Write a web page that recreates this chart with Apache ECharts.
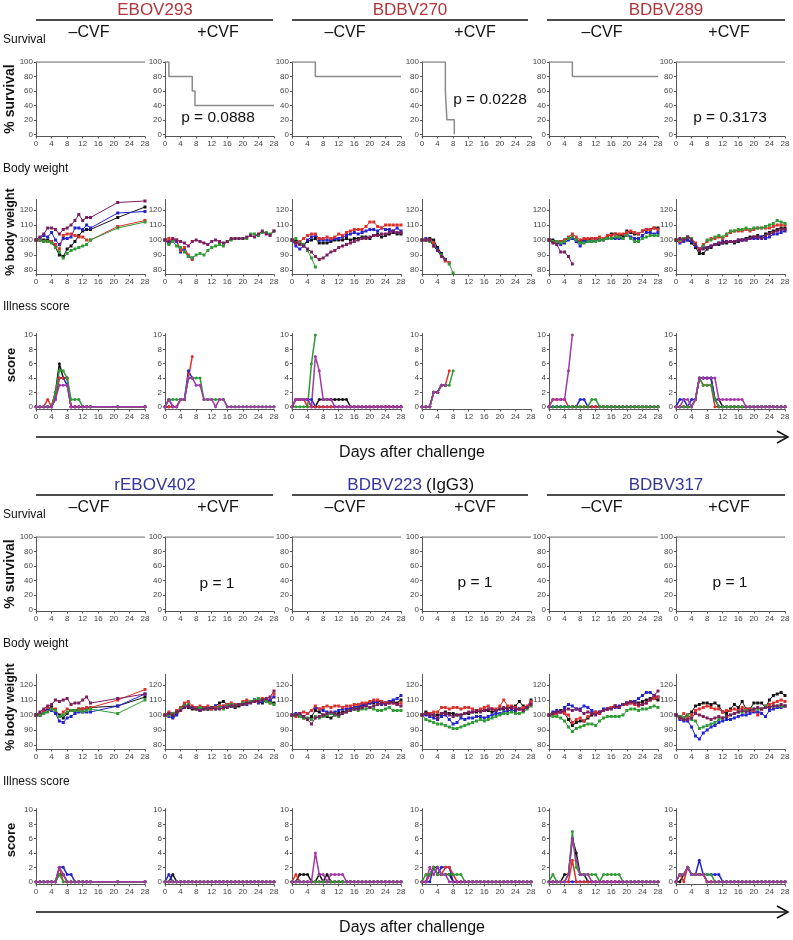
<!DOCTYPE html>
<html>
<head>
<meta charset="utf-8">
<script src="https://cdn.jsdelivr.net/npm/echarts@6/dist/echarts.min.js"></script>
<style>html,body{margin:0;padding:0;background:#fff}#main{width:793px;height:940px}</style>
</head>
<body>
<div id="main"></div>
<script>
var daysDaily = [0,1,2,3,4,5,6,7,8,9,10,11,12,13,14,15,16,17,18,19,20,21,22,23,24,25,26,27,28];
var daysSparse = [0,1,2,3,4,5,6,7,8,9,10,11,12,13,14,21,28];
var mouseColors = ['#141414','#2323d2','#e0302c','#2e9b35','#7b1d5e'];
var scoreColors = ['#141414','#2323d2','#e0302c','#2e9b35','#a23aa8'];
var survTicks = [0,20,40,60,80,100];
var bwTicks = [80,90,100,110,120];
var scoreTicks = [0,2,4,6,8,10];

var groupNames = ['EBOV293','BDBV270','BDBV289','rEBOV402','BDBV223','BDBV317'];
var cvfLabels = ['\u2013CVF','+CVF'];
var pValues = ['p = 0.0888','p = 0.0228','p = 0.3173','p = 1','p = 1','p = 1'];

// survival, [day, %] step points
var surv_EBOV293_neg = [[0,100],[28,100]];
var surv_EBOV293_pos = [[0,100],[1,80],[7,60],[7.7,40],[28,40]];
var surv_BDBV270_neg = [[0,100],[6,80],[28,80]];
var surv_BDBV270_pos = [[0,100],[6,60],[6.4,20],[8.3,0]];
var surv_BDBV289_neg = [[0,100],[6,80],[28,80]];
var surv_BDBV289_pos = [[0,100],[28,100]];
var surv_rEBOV402_neg = [[0,100],[28,100]];
var surv_rEBOV402_pos = [[0,100],[28,100]];
var surv_BDBV223_neg = [[0,100],[28,100]];
var surv_BDBV223_pos = [[0,100],[28,100]];
var surv_BDBV317_neg = [[0,100],[28,100]];
var surv_BDBV317_pos = [[0,100],[28,100]];

// body weight (% of day 0), one row per mouse: black, blue, red, green, maroon
var bw_EBOV293_neg = [
  [100,100,100,100,99,95,90,89,94,96,99,103,106,107,107,115,122],
  [100,101,103,102,105,100,97,101,101,102,108,108,107,110,108,118,119],
  [100,100,99,99,99,97,94,103,104,104,103,102,102,100,100,109,113],
  [100,100,99,99,98,95,92,88,91,93,94,95,96,97,100,108,112],
  [100,102,104,108,108,107,104,107,108,110,113,117,113,115,115,125,126]
];
var bw_EBOV293_pos = [
  [100,98],
  [100,98,100,99,92,94,89,88],
  [100,101,100,100,93,95,90,87],
  [100,97,99,96,95,92,89,88,90,91,90,93,95,96,97,96,99,100,101,101,101,101,104,104,103,105,105,104,106],
  [100,99,101,100,99,98,96,99,100,99,98,97,99,100,99,98,99,101,101,101,101,102,103,102,104,106,104,103,106]
];
var bw_BDBV270_neg = [
  [100,99,98,97,99,100,101,98,98,98,99,100,100,100,101,100,101,101,102,102,101,103,104,102,103,104,105,104,104],
  [100,96,94,96,100,102,103,100,100,100,100,101,101,102,103,104,105,104,105,106,107,107,106,108,107,107,106,108,106],
  [100,98,99,101,103,104,104,101,101,102,101,102,104,103,105,106,107,107,107,109,112,112,109,108,110,110,110,110,110],
  [100,101,98,97,93,88,82],
  [100,98,97,96,94,92,89,87,88,90,92,93,95,96,97,98,99,100,101,101,102,103,103,104,104,105,106,105,105]
];
var bw_BDBV270_pos = [
  [100,100,101,100,95,91,87],
  [100,101,100,97,94,90,87],
  [100,100,100,98,93,89,86,85],
  [100,100,99,96,93,90,87,84,78],
  [100,100,100,96,93,89,87]
];
var bw_BDBV289_neg = [
  [100,100,99,99,100,101,102,100,99,100,100,101,101,100,101,102,104,104,103,103,106,105,104,104,106,107,107,108,108],
  [100,99,98,97,98,100,101,99,96,99,99,99,100,100,100,101,101,101,101,101,104,102,101,101,103,105,105,104,105],
  [100,99,99,99,100,102,104,102,100,101,101,101,101,102,101,103,103,104,104,104,105,106,105,104,106,107,107,108,107],
  [100,99,99,98,99,101,102,100,98,98,99,99,99,100,100,101,101,102,102,101,103,101,99,99,101,102,103,103,103],
  [100,98,97,92,92,89,84]
];
var bw_BDBV289_pos = [
  [100,100,101,100,98,95,91,91,94,95,97,97,98,98,99,98,99,100,101,102,102,103,102,104,105,106,107,108,108],
  [100,98,99,100,99,96,94,95,95,96,97,98,99,99,99,99,100,100,100,101,101,101,102,101,102,104,104,105,106],
  [100,99,101,102,101,98,94,97,99,101,101,102,101,103,105,106,106,106,107,106,107,108,108,108,108,109,110,110,110],
  [100,100,101,102,101,97,93,96,100,100,102,103,102,104,106,106,107,107,108,107,108,108,108,109,110,111,113,112,111],
  [100,101,100,102,100,97,93,94,95,96,97,98,98,99,99,99,100,100,100,101,102,102,101,103,104,105,106,107,107]
];
var bw_rEBOV402_neg = [
  [100,100,102,104,105,103,100,98,101,103,103,104,104,104,105,106,112],
  [100,100,102,104,103,101,96,95,98,99,101,102,102,102,102,106,114],
  [100,100,103,105,104,104,99,102,104,103,103,104,104,105,105,110,117],
  [100,100,101,102,104,103,99,100,102,103,103,103,102,103,104,101,110],
  [100,102,104,106,107,110,109,110,111,107,108,108,110,112,108,111,114]
];
var bw_rEBOV402_pos = [
  [100,101,99,101,104,107,105,104,104,103,105,104,104,106,108,109,107,106,105,106,107,108,109,110,109,108,110,109,108],
  [100,99,98,100,103,106,106,105,105,104,104,105,105,106,105,106,106,106,107,107,108,107,109,110,108,109,110,110,112],
  [100,102,101,103,105,108,109,106,105,106,105,106,104,105,106,106,107,108,107,107,109,110,109,109,110,111,110,108,114],
  [100,100,101,102,104,106,107,105,104,105,104,104,105,104,105,104,106,107,106,107,108,108,109,110,111,110,109,108,107],
  [100,101,100,102,103,105,106,105,104,103,104,104,105,104,104,105,105,106,106,107,107,108,108,109,109,110,111,112,116]
];
var bw_BDBV223_neg = [
  [100,100,99,98,97,99,103,102,100,99,98,100,101,102,103,104,104,105,106,107,108,108,109,109,108,109,109,108,110],
  [100,101,100,99,101,103,105,104,103,102,101,102,103,104,104,105,105,106,107,107,108,109,108,107,108,109,110,111,113],
  [100,99,101,102,101,103,106,104,105,106,105,106,106,105,106,106,107,107,108,108,109,110,110,109,108,108,108,107,108],
  [100,100,99,98,98,97,99,98,99,100,101,100,99,101,102,103,104,103,104,104,105,104,103,103,104,105,103,103,103],
  [100,100,101,99,97,94,98,99,100,101,102,101,100,101,102,103,104,104,105,106,105,106,107,108,107,108,108,107,106]
];
var bw_BDBV223_pos = [
  [100,102,101,100,100,101,102,101,101,100,100,101,101,102,102,103,103,103,102,103,104,104,105,105,106,109,106,105,110],
  [100,100,99,98,97,99,100,97,94,95,98,97,98,98,99,99,98,99,100,101,101,102,103,103,103,104,104,105,108],
  [100,101,101,102,102,105,105,104,105,105,104,105,105,104,103,104,105,106,104,104,106,110,106,106,105,104,105,106,109],
  [100,97,96,95,94,94,93,92,91,91,92,93,94,95,96,97,96,97,98,99,100,101,101,102,101,101,102,104,106],
  [100,101,100,100,98,101,101,100,99,100,100,101,102,102,103,102,103,104,104,103,104,105,104,105,104,104,103,105,107]
];
var bw_BDBV317_neg = [
  [100,101,102,103,101,97,93,95,96,96,98,100,102,101,103,104,105,106,105,107,108,109,109,108,109,110,111,111,110],
  [100,102,103,102,105,107,106,104,104,106,105,103,101,102,104,104,105,105,106,107,108,108,109,111,113,115,115,113,112],
  [100,100,101,102,101,100,95,97,98,96,99,101,102,101,103,104,105,106,105,107,107,108,107,106,107,108,110,111,112],
  [100,99,99,98,96,92,89,91,92,93,94,94,93,96,98,99,99,99,99,100,103,104,104,103,104,104,105,106,105],
  [100,101,102,102,103,104,103,104,103,101,102,101,100,102,103,104,104,106,105,107,108,109,108,107,107,108,110,113,116]
];
var bw_BDBV317_pos = [
  [100,99,98,100,102,106,107,108,108,107,108,106,102,101,104,107,105,109,104,104,108,108,108,105,110,113,114,115,113],
  [100,97,96,96,92,86,84,88,90,92,93,95,96,97,97,98,99,100,100,101,102,102,101,99,103,104,105,105,106],
  [100,98,101,98,100,103,104,105,106,105,104,104,102,103,103,104,103,105,104,104,103,100,104,106,107,108,109,110,109],
  [100,99,98,100,97,96,91,92,93,94,95,97,98,99,100,101,102,102,103,103,104,104,104,106,105,106,106,106,106],
  [100,98,97,97,98,101,100,99,98,97,98,99,98,99,100,101,102,103,102,103,104,105,104,105,105,106,106,107,106]
];

// illness score, one row per mouse: black, blue, red, green, purple
var sc_EBOV293_neg = [
  [0,0,0,0,0,2,6,4,4,0,0,0,0,0,0,0,0],
  [0,0,0,0,0,1,4,4,3,0,0,0,0,0,0,0,0],
  [0,0,0,1,0,2,4,4,4,0,0,0,0,0,0,0,0],
  [0,0,0,0,0,2,5,5,4,1,1,1,0,0,0,0,0],
  [0,0,0,0,0,1,3,3,3,0,0,0,0,0,0,0,0]
];
var sc_EBOV293_pos = [
  [0,0],
  [0,1,0,0,1,1,5,4],
  [0,0,0,0,1,1,4,7],
  [0,1,1,1,1,1,4,4,4,4,1,1,1,1,1,1,0,0,0,0,0,0,0,0,0,0,0,0,0],
  [0,1,0,0,1,1,4,4,3,3,1,1,1,0,1,1,0,0,0,0,0,0,0,0,0,0,0,0,0]
];
var sc_BDBV270_neg = [
  [0,1,1,1,1,0,0,1,1,1,1,1,1,1,1,0,0,0,0,0,0,0,0,0,0,0,0,0,0],
  [0,1,1,1,1,1,0,0,0,0,0,0,0,0,0,0,0,0,0,0,0,0,0,0,0,0,0,0,0],
  [0,1,1,1,0,0,0,0,0,0,0,0,0,0,0,0,0,0,0,0,0,0,0,0,0,0,0,0,0],
  [0,0,0,0,0,6,10],
  [0,1,1,1,1,0,7,5,1,1,1,0,0,0,0,0,0,0,0,0,0,0,0,0,0,0,0,0,0]
];
var sc_BDBV270_pos = [
  [0,0,0,2,2,3,3],
  [0,0,0,2,2,3,3],
  [0,0,0,2,2,3,3,5],
  [0,0,0,2,2,3,3,3,5],
  [0,0,0,2,2,3,3]
];
var sc_BDBV289_neg = [
  [0,0,0,0,0,0,0,0,0,0,0,0,0,0,0,0,0,0,0,0,0,0,0,0,0,0,0,0,0],
  [0,0,0,0,0,0,0,0,1,1,0,0,0,0,0,0,0,0,0,0,0,0,0,0,0,0,0,0,0],
  [0,1,1,1,1,0,0,0,0,0,0,0,0,0,0,0,0,0,0,0,0,0,0,0,0,0,0,0,0],
  [0,0,0,0,0,0,0,0,0,0,0,1,1,0,0,0,0,0,0,0,0,0,0,0,0,0,0,0,0],
  [0,1,1,1,1,5,10]
];
var sc_BDBV289_pos = [
  [0,0,0,0,0,1,4,4,4,4,1,1,0,0,0,0,0,0,0,0,0,0,0,0,0,0,0,0,0],
  [0,1,1,0,1,1,4,4,4,4,1,0,0,0,0,0,0,0,0,0,0,0,0,0,0,0,0,0,0],
  [0,0,0,0,0,1,4,3,3,3,0,0,0,0,0,0,0,0,0,0,0,0,0,0,0,0,0,0,0],
  [0,0,0,0,0,1,4,3,3,3,1,0,0,0,0,0,0,0,0,0,0,0,0,0,0,0,0,0,0],
  [0,0,1,1,0,1,4,4,4,4,4,1,1,1,1,1,1,1,0,0,0,0,0,0,0,0,0,0,0]
];
var sc_rEBOV402_neg = [
  [0,0,0,0,0,0,1,1,0,0,0,0,0,0,0,0,0],
  [0,0,0,0,0,0,2,2,1,1,0,0,0,0,0,0,0],
  [0,0,0,0,0,0,2,0,0,0,0,0,0,0,0,0,0],
  [0,0,0,0,0,0,1,0,0,0,0,0,0,0,0,0,0],
  [0,0,0,0,0,0,2,1,0,0,0,0,0,0,0,0,0]
];
var sc_rEBOV402_pos = [
  [0,0,1,0,0,0,0,0,0,0,0,0,0,0,0,0,0,0,0,0,0,0,0,0,0,0,0,0,0],
  [0,1,0,0,0,0,0,0,0,0,0,0,0,0,0,0,0,0,0,0,0,0,0,0,0,0,0,0,0],
  [0,0,0,0,0,0,0,0,0,0,0,0,0,0,0,0,0,0,0,0,0,0,0,0,0,0,0,0,0],
  [0,0,0,0,0,0,0,0,0,0,0,0,0,0,0,0,0,0,0,0,0,0,0,0,0,0,0,0,0],
  [0,0,0,0,0,0,0,0,0,0,0,0,0,0,0,0,0,0,0,0,0,0,0,0,0,0,0,0,0]
];
var sc_BDBV223_neg = [
  [0,0,1,1,1,0,0,1,0,1,0,0,0,0,0,0,0,0,0,0,0,0,0,0,0,0,0,0,0],
  [0,0,0,0,0,0,0,0,0,0,0,0,0,0,0,0,0,0,0,0,0,0,0,0,0,0,0,0,0],
  [0,1,0,0,0,0,0,0,0,0,0,0,0,0,0,0,0,0,0,0,0,0,0,0,0,0,0,0,0],
  [0,0,0,0,0,0,0,0,0,0,0,0,0,0,0,0,0,0,0,0,0,0,0,0,0,0,0,0,0],
  [0,0,0,0,0,0,4,1,1,0,1,1,1,1,0,0,0,0,0,0,0,0,0,0,0,0,0,0,0]
];
var sc_BDBV223_pos = [
  [0,0,1,2,2,1,1,1,0,0,0,0,0,0,0,0,0,0,0,0,0,0,0,0,0,0,0,0,0],
  [0,0,0,2,1,2,2,2,0,0,0,0,0,0,0,0,0,0,0,0,0,0,0,0,0,0,0,0,0],
  [0,0,1,2,1,1,2,2,1,0,0,0,0,0,0,0,0,0,0,0,0,0,0,0,0,0,0,0,0],
  [0,1,1,2,1,1,1,1,1,1,1,0,0,0,0,0,0,0,0,0,0,0,0,0,0,0,0,0,0],
  [0,0,2,1,2,1,1,0,0,0,0,0,0,0,0,0,0,0,0,0,0,0,0,0,0,0,0,0,0]
];
var sc_BDBV317_neg = [
  [0,0,0,0,1,1,6,4,1,1,0,0,0,0,0,0,0,0,0,0,0,0,0,0,0,0,0,0,0],
  [0,0,0,0,0,0,0,0,0,0,0,0,0,0,0,0,0,0,0,0,0,0,0,0,0,0,0,0,0],
  [0,0,0,0,0,0,3,0,0,0,0,0,0,0,0,0,0,0,0,0,0,0,0,0,0,0,0,0,0],
  [0,1,0,0,0,1,7,2,1,1,1,1,1,0,1,1,1,1,1,0,0,0,0,0,0,0,0,0,0],
  [0,0,0,0,0,1,6,3,1,1,1,0,0,0,0,0,0,0,0,0,0,0,0,0,0,0,0,0,0]
];
var sc_BDBV317_pos = [
  [0,0,1,2,1,1,1,1,0,0,0,0,0,0,0,0,0,0,0,0,0,0,0,0,0,0,0,0,0],
  [0,1,1,2,1,1,3,1,1,1,1,1,0,0,0,0,0,0,0,0,0,0,0,0,0,0,0,0,0],
  [0,1,0,2,1,1,1,1,0,0,0,0,0,0,0,0,0,0,0,0,0,0,0,0,0,0,0,0,0],
  [0,1,1,2,1,1,1,1,1,1,0,0,0,0,0,0,0,0,0,0,0,0,0,0,0,0,0,0,0],
  [0,1,1,2,1,1,1,1,0,0,0,0,0,0,0,0,0,0,0,0,0,0,0,0,0,0,0,0,0]
];

var panelSurv = [surv_EBOV293_neg, surv_EBOV293_pos, surv_BDBV270_neg, surv_BDBV270_pos, surv_BDBV289_neg, surv_BDBV289_pos,
  surv_rEBOV402_neg, surv_rEBOV402_pos, surv_BDBV223_neg, surv_BDBV223_pos, surv_BDBV317_neg, surv_BDBV317_pos];
var panelBw = [bw_EBOV293_neg, bw_EBOV293_pos, bw_BDBV270_neg, bw_BDBV270_pos, bw_BDBV289_neg, bw_BDBV289_pos,
  bw_rEBOV402_neg, bw_rEBOV402_pos, bw_BDBV223_neg, bw_BDBV223_pos, bw_BDBV317_neg, bw_BDBV317_pos];
var panelSc = [sc_EBOV293_neg, sc_EBOV293_pos, sc_BDBV270_neg, sc_BDBV270_pos, sc_BDBV289_neg, sc_BDBV289_pos,
  sc_rEBOV402_neg, sc_rEBOV402_pos, sc_BDBV223_neg, sc_BDBV223_pos, sc_BDBV317_neg, sc_BDBV317_pos];
var panelDays = [daysSparse, daysDaily, daysDaily, daysDaily, daysDaily, daysDaily,
  daysSparse, daysDaily, daysDaily, daysDaily, daysDaily, daysDaily];

var FONT = 'Liberation Sans, Arial, sans-serif';
var colLeft = [36, 165, 292, 422, 549, 676];
var grids = [], xAxes = [], yAxes = [], series = [];

function addGrid(left, top, height, yMin, yMax, yTicks) {
  var i = grids.length;
  grids.push({left: left, top: top, width: 109, height: height, outerBoundsMode: 'none'});
  xAxes.push({
    gridIndex: i, type: 'value', min: 0, max: 28, interval: 4,
    axisLine: {onZero: false, lineStyle: {color: '#555', width: 1}},
    axisTick: {show: true, length: 2, lineStyle: {color: '#555'}},
    axisLabel: {fontSize: 8, color: '#444', margin: 3, fontFamily: FONT},
    splitLine: {show: false}
  });
  yAxes.push({
    gridIndex: i, type: 'value', min: yMin, max: yMax,
    axisLine: {show: true, onZero: false, lineStyle: {color: '#555', width: 1}},
    axisTick: {show: true, length: 2, customValues: yTicks, lineStyle: {color: '#555'}},
    axisLabel: {fontSize: 8, color: '#444', margin: 3, customValues: yTicks, fontFamily: FONT},
    splitLine: {show: false}
  });
  return i;
}

panelSurv.forEach(function (surv, p) {
  var shift = p < 6 ? 0 : 475;
  var left = colLeft[p % 6];
  var days = panelDays[p];

  var gs = addGrid(left, 62 + shift, 74.5, -3, 100, survTicks);
  series.push({
    type: 'line', xAxisIndex: gs, yAxisIndex: gs, step: 'end', symbol: 'none',
    data: surv, lineStyle: {color: '#8a8a8a', width: 1.5}
  });

  var gb = addGrid(left, 199.5 + shift, 75, 77, 127, bwTicks);
  panelBw[p].forEach(function (vals, m) {
    series.push({
      type: 'line', xAxisIndex: gb, yAxisIndex: gb, symbol: 'rect', symbolSize: 3,
      data: vals.map(function (v, i) { return [days[i], v]; }),
      lineStyle: {color: mouseColors[m], width: 1}, itemStyle: {color: mouseColors[m]}
    });
  });

  var gc = addGrid(left, 333.6 + shift, 75.9, -0.4, 10.2, scoreTicks);
  panelSc[p].forEach(function (vals, m) {
    series.push({
      type: 'line', xAxisIndex: gc, yAxisIndex: gc, symbol: 'circle', symbolSize: 3,
      data: vals.map(function (v, i) { return [days[i], v]; }),
      lineStyle: {color: scoreColors[m], width: 1.5}, itemStyle: {color: scoreColors[m]}
    });
  });
});

function txt(text, x, y, size, color, opts) {
  opts = opts || {};
  return {
    type: 'text', x: x, y: y, rotation: opts.rotation || 0, z: 100,
    style: {
      text: text, fontSize: size, fontFamily: FONT, fontWeight: opts.weight || 'normal',
      fill: color, textAlign: opts.align || 'center', textVerticalAlign: 'middle'
    }
  };
}
function hline(x1, x2, y) {
  return {type: 'line', z: 100, shape: {x1: x1, y1: y, x2: x2, y2: y}, style: {stroke: '#111', lineWidth: 1.5}};
}

var graphics = [];
var headerX = [155, 410, 666];
var headerLines = [[36, 273], [292, 528], [547, 785]];
[0, 475].forEach(function (shift, b) {
  var color = b === 0 ? '#b3363a' : '#35359a';
  headerX.forEach(function (hx, g) {
    var name = groupNames[b * 3 + g];
    if (b === 1 && g === 1) {
      graphics.push(txt(name, 422, 10 + shift, 17, color, {align: 'right'}));
      graphics.push(txt('(IgG3)', 426, 10 + shift, 17, '#111', {align: 'left'}));
    } else {
      graphics.push(txt(name, hx, 10 + shift, 17, color));
    }
    graphics.push(hline(headerLines[g][0], headerLines[g][1], 20 + shift));
  });
  colLeft.forEach(function (cl, c) {
    graphics.push(txt(cvfLabels[c % 2], cl + 53, 33 + shift, 16, '#111'));
  });
  graphics.push(txt('Survival', 3, 40 + shift, 12, '#111', {align: 'left'}));
  graphics.push(txt('Body weight', 3, 169 + shift, 12, '#111', {align: 'left'}));
  graphics.push(txt('Illness score', 3, 307 + shift, 12, '#111', {align: 'left'}));
  graphics.push(txt('% survival', 10, 99 + shift, 14, '#111', {rotation: Math.PI / 2, weight: 'bold'}));
  graphics.push(txt('% body weight', 11, 232 + shift, 12.5, '#111', {rotation: Math.PI / 2, weight: 'bold'}));
  graphics.push(txt('score', 11, 365 + shift, 13, '#111', {rotation: Math.PI / 2, weight: 'bold'}));
  graphics.push(hline(36, 787, 437 + shift));
  graphics.push({type: 'polyline', z: 100, shape: {points: [[777, 431 + shift], [788, 437 + shift], [777, 443 + shift]]},
    style: {stroke: '#111', lineWidth: 1.5, fill: null}});
  graphics.push(txt('Days after challenge', 412, 453 + shift, 16, '#111'));
});
var pPos = [[218, 118], [490, 100], [730, 118], [217, 584], [475, 583], [730, 583]];
pValues.forEach(function (pv, i) {
  graphics.push(txt(pv, pPos[i][0], pPos[i][1], 15.5, '#111'));
});

var myChart = echarts.init(document.getElementById('main'));
myChart.setOption({
  animation: false,
  backgroundColor: '#fff',
  textStyle: {fontFamily: FONT},
  grid: grids,
  xAxis: xAxes,
  yAxis: yAxes,
  series: series,
  graphic: graphics
});
</script>
</body>
</html>
